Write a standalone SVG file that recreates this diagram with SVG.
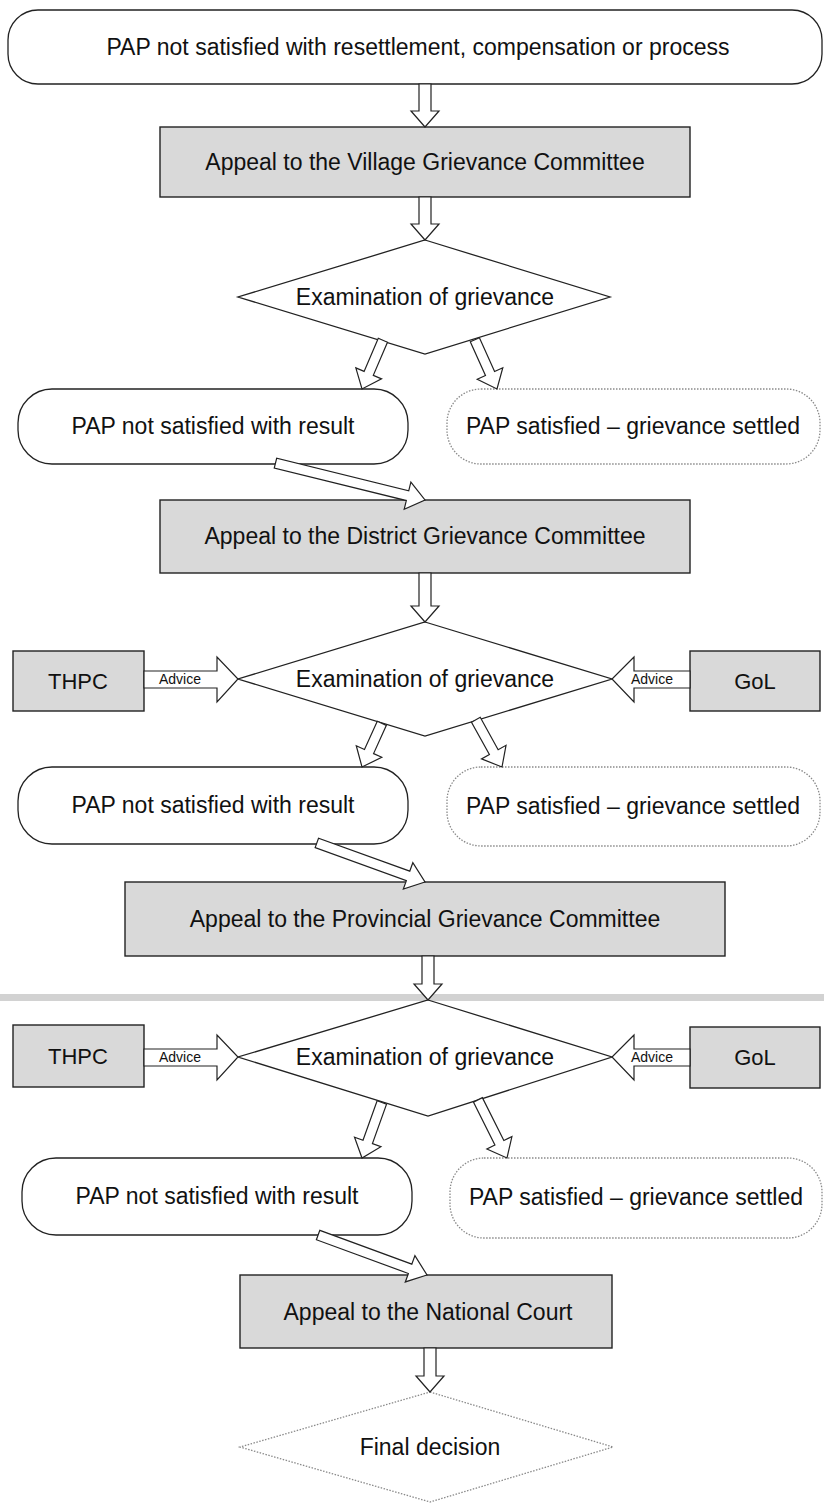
<svg xmlns="http://www.w3.org/2000/svg" width="824" height="1503" viewBox="0 0 824 1503">
<defs>
<style>
.t{font-family:"Liberation Sans",Arial,sans-serif;font-size:23px;fill:#111;text-anchor:middle}
.s{font-family:"Liberation Sans",Arial,sans-serif;font-size:14px;fill:#111;text-anchor:middle}
.box{fill:#d9d9d9;stroke:#222;stroke-width:1.4}
.term{fill:#fff;stroke:#222;stroke-width:1.3}
.dot{fill:#fff;stroke:#8a8a8a;stroke-width:1.3;stroke-dasharray:1.5 1.5}
.dia{fill:#fff;stroke:#222;stroke-width:1.3}
.arr{fill:#fff;stroke:#222;stroke-width:1.2;stroke-linejoin:miter}
</style>
</defs>
<rect x="0" y="994" width="824" height="7" fill="#d2d2d2"/>
<g id="start"><rect class="term" x="8" y="10" width="814" height="74" rx="30"/><text class="t" x="418" y="55">PAP not satisfied with resettlement, compensation or process</text></g>
<g id="village"><rect class="box" x="160" y="127" width="530" height="70"/><text class="t" x="425" y="170">Appeal to the Village Grievance Committee</text></g>
<g id="exam1"><polygon class="dia" points="425,240 610,297 425,354 238,297"/><text class="t" x="425" y="305">Examination of grievance</text></g>
<g id="notsat1"><rect class="term" x="18" y="389" width="390" height="75" rx="34"/><text class="t" x="213" y="434">PAP not satisfied with result</text></g>
<g id="sat1"><rect class="dot" x="447" y="389" width="373" height="75" rx="34"/><text class="t" x="633" y="434">PAP satisfied – grievance settled</text></g>
<g id="district"><rect class="box" x="160" y="500" width="530" height="73"/><text class="t" x="425" y="544">Appeal to the District Grievance Committee</text></g>
<g id="exam2"><polygon class="dia" points="425,622 612,679 425,736 238,679"/><text class="t" x="425" y="687">Examination of grievance</text></g>
<g id="thpc1"><rect class="box" x="13" y="651" width="131" height="60"/><text class="t" x="78" y="689" style="font-size:22px">THPC</text></g>
<g id="gol1"><rect class="box" x="690" y="651" width="130" height="60"/><text class="t" x="755" y="689" style="font-size:22px">GoL</text></g>
<g id="notsat2"><rect class="term" x="18" y="767" width="390" height="77" rx="34"/><text class="t" x="213" y="813">PAP not satisfied with result</text></g>
<g id="sat2"><rect class="dot" x="447" y="767" width="373" height="79" rx="34"/><text class="t" x="633" y="814">PAP satisfied – grievance settled</text></g>
<g id="provincial"><rect class="box" x="125" y="882" width="600" height="74"/><text class="t" x="425" y="927">Appeal to the Provincial Grievance Committee</text></g>
<g id="exam3"><polygon class="dia" points="428,1000 612,1057 428,1116 238,1057"/><text class="t" x="425" y="1065">Examination of grievance</text></g>
<g id="thpc2"><rect class="box" x="13" y="1025" width="131" height="62"/><text class="t" x="78" y="1064" style="font-size:22px">THPC</text></g>
<g id="gol2"><rect class="box" x="690" y="1027" width="130" height="61"/><text class="t" x="755" y="1065" style="font-size:22px">GoL</text></g>
<g id="notsat3"><rect class="term" x="22" y="1158" width="390" height="77" rx="34"/><text class="t" x="217" y="1204">PAP not satisfied with result</text></g>
<g id="sat3"><rect class="dot" x="450" y="1158" width="372" height="80" rx="34"/><text class="t" x="636" y="1205">PAP satisfied – grievance settled</text></g>
<g id="national"><rect class="box" x="240" y="1275" width="372" height="73"/><text class="t" x="428" y="1320">Appeal to the National Court</text></g>
<g id="final"><polygon class="dot" points="430,1392 613,1447 430,1502 240,1447"/><text class="t" x="430" y="1455">Final decision</text></g>
<g id="connectors">
<polygon class="arr" transform="translate(425,127)" points="-6,-43 6,-43 6,-16 14,-16 0,0 -14,-16 -6,-16"/>
<polygon class="arr" transform="translate(425,240)" points="-6,-43 6,-43 6,-16 14,-16 0,0 -14,-16 -6,-16"/>
<polygon class="arr" transform="translate(425,622)" points="-6,-49 6,-49 6,-16 14,-16 0,0 -14,-16 -6,-16"/>
<polygon class="arr" transform="translate(428,1000)" points="-6,-44 6,-44 6,-16 14,-16 0,0 -14,-16 -6,-16"/>
<polygon class="arr" transform="translate(430,1392)" points="-6,-44 6,-44 6,-16 14,-16 0,0 -14,-16 -6,-16"/>
<polygon class="arr" transform="translate(362,389) rotate(23.2)" points="-5,-53 5,-53 5,-17 14,-17 0,0 -14,-17 -5,-17"/>
<polygon class="arr" transform="translate(497,389) rotate(-24.2)" points="-5,-54 5,-54 5,-17 14,-17 0,0 -14,-17 -5,-17"/>
<polygon class="arr" transform="translate(362,767) rotate(24.4)" points="-5,-48 5,-48 5,-17 14,-17 0,0 -14,-17 -5,-17"/>
<polygon class="arr" transform="translate(502,767) rotate(-28.95)" points="-5,-54 5,-54 5,-17 14,-17 0,0 -14,-17 -5,-17"/>
<polygon class="arr" transform="translate(362,1158) rotate(19.65)" points="-5,-59 5,-59 5,-17 14,-17 0,0 -14,-17 -5,-17"/>
<polygon class="arr" transform="translate(507,1158) rotate(-26.6)" points="-5,-65 5,-65 5,-17 14,-17 0,0 -14,-17 -5,-17"/>
<polygon class="arr" transform="translate(425,500) rotate(-76.14)" points="-5,-154 5,-154 5,-18 14,-18 0,0 -14,-18 -5,-18"/>
<polygon class="arr" transform="translate(425,882) rotate(-70.15)" points="-5,-115 5,-115 5,-18 14,-18 0,0 -14,-18 -5,-18"/>
<polygon class="arr" transform="translate(427,1275) rotate(-69.85)" points="-5,-116 5,-116 5,-18 14,-18 0,0 -14,-18 -5,-18"/>
<polygon class="arr" points="144,671 217,671 217,657 238,679 217,702 217,688 144,688"/>
<polygon class="arr" points="690,671 634,671 634,657 612,679 634,702 634,688 690,688"/>
<polygon class="arr" points="144,1049 217,1049 217,1035 238,1057 217,1080 217,1066 144,1066"/>
<polygon class="arr" points="690,1049 634,1049 634,1035 612,1057 634,1080 634,1066 690,1066"/>
<text class="s" x="180" y="684">Advice</text>
<text class="s" x="652" y="684">Advice</text>
<text class="s" x="180" y="1062">Advice</text>
<text class="s" x="652" y="1062">Advice</text>
</g>
</svg>
